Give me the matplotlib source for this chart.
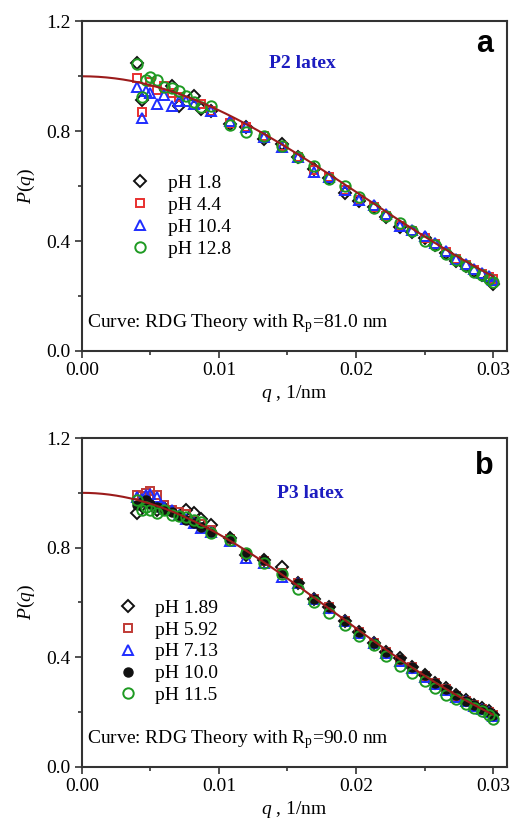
import numpy as np
import matplotlib
matplotlib.use("Agg")
import matplotlib.pyplot as plt
from matplotlib.ticker import MultipleLocator, FormatStrFormatter

# ---------------- data: panel a (P2 latex) ----------------
q_low_a = [0.00405, 0.0044, 0.00465, 0.00497, 0.00545, 0.0060, 0.00654, 0.0071, 0.00763, 0.0082, 0.00872, 0.0094]
q_high = [0.0108, 0.0120, 0.0133, 0.0146, 0.0158, 0.0169, 0.0180, 0.0192, 0.0202, 0.0213, 0.0222,
          0.0232, 0.0241, 0.0250, 0.0258, 0.0266, 0.0273, 0.0280, 0.0286, 0.0292, 0.0297, 0.0300]

a_q_ph18 = [0.00405, 0.0044, 0.00654, 0.0071, 0.0082, 0.00872, 0.0094] + q_high
a_p_ph18 = [1.048, 0.912, 0.966, 0.893, 0.927, 0.881, 0.875,
            0.827, 0.817, 0.772, 0.752, 0.705, 0.663, 0.629, 0.575, 0.545, 0.524, 0.487,
            0.453, 0.433, 0.412, 0.384, 0.358, 0.327, 0.308, 0.291, 0.275, 0.267, 0.245]

a_q_ph44 = [0.00405, 0.0044, 0.00497, 0.00545, 0.0060, 0.00654, 0.0071, 0.00872, 0.0094] + q_high
a_p_ph44 = [0.993, 0.869, 0.978, 0.950, 0.966, 0.938, 0.924, 0.899, 0.875,
            0.830, 0.815, 0.784, 0.748, 0.707, 0.660, 0.632, 0.585, 0.550, 0.525, 0.490,
            0.455, 0.435, 0.413, 0.388, 0.362, 0.335, 0.313, 0.296, 0.281, 0.271, 0.262]

a_q_ph104 = [0.00405, 0.0044, 0.00465, 0.00497, 0.00545, 0.0060, 0.00654, 0.0071, 0.00763, 0.0082, 0.0094] + q_high
a_p_ph104 = [0.962, 0.848, 0.948, 0.938, 0.899, 0.932, 0.893, 0.909, 0.911, 0.899, 0.875,
             0.836, 0.817, 0.778, 0.742, 0.705, 0.651, 0.633, 0.587, 0.548, 0.533, 0.499,
             0.455, 0.439, 0.417, 0.393, 0.364, 0.336, 0.315, 0.299, 0.284, 0.272, 0.257]

a_q_ph128 = q_low_a + q_high
a_p_ph128 = [1.045, 0.924, 0.987, 0.999, 0.987, 0.962, 0.958, 0.948, 0.930, 0.905, 0.887, 0.893,
             0.824, 0.796, 0.781, 0.748, 0.705, 0.673, 0.627, 0.602, 0.562, 0.521, 0.493,
             0.465, 0.436, 0.402, 0.384, 0.354, 0.332, 0.308, 0.287, 0.275, 0.263, 0.251]

# ---------------- data: panel b (P3 latex) ----------------
q_low_b = [0.00405, 0.00437, 0.00466, 0.00497, 0.00545, 0.0060, 0.00654, 0.0071, 0.00763, 0.0082, 0.00872, 0.0094]

b_q_ph189 = [0.00405, 0.00437, 0.00466, 0.00545, 0.0060, 0.00763, 0.0082, 0.00872, 0.0094] + q_high
b_p_ph189 = [0.925, 0.955, 0.971, 0.937, 0.943, 0.939, 0.925, 0.906, 0.882,
             0.834, 0.775, 0.755, 0.728, 0.670, 0.612, 0.585, 0.534, 0.494, 0.454, 0.421,
             0.397, 0.364, 0.336, 0.308, 0.288, 0.263, 0.243, 0.227, 0.215, 0.203, 0.190]

b_q_ph592 = q_low_b + q_high
b_p_ph592 = [0.991, 0.988, 1.000, 1.007, 0.991, 0.955, 0.939, 0.931, 0.922, 0.900, 0.888, 0.864,
             0.830, 0.778, 0.752, 0.706, 0.672, 0.614, 0.582, 0.534, 0.493, 0.453, 0.420,
             0.392, 0.363, 0.333, 0.305, 0.284, 0.260, 0.241, 0.225, 0.212, 0.200, 0.188]

b_q_ph713 = q_low_b + q_high
b_p_ph713 = [0.983, 0.979, 0.991, 0.997, 0.983, 0.949, 0.939, 0.918, 0.906, 0.891, 0.870, 0.858,
             0.825, 0.764, 0.743, 0.694, 0.670, 0.612, 0.579, 0.534, 0.490, 0.451, 0.417,
             0.388, 0.360, 0.330, 0.303, 0.281, 0.257, 0.239, 0.223, 0.211, 0.199, 0.187]

b_q_ph100 = q_low_b + q_high
b_p_ph100 = [0.955, 0.967, 0.973, 0.961, 0.949, 0.937, 0.931, 0.915, 0.900, 0.891, 0.876, 0.858,
             0.834, 0.779, 0.755, 0.709, 0.672, 0.612, 0.582, 0.534, 0.494, 0.454, 0.421,
             0.393, 0.364, 0.334, 0.306, 0.285, 0.261, 0.241, 0.225, 0.212, 0.200, 0.188]

b_q_ph115 = q_low_b + q_high
b_p_ph115 = [0.973, 0.939, 0.949, 0.937, 0.925, 0.937, 0.918, 0.915, 0.912, 0.900, 0.894, 0.854,
             0.827, 0.781, 0.743, 0.704, 0.648, 0.603, 0.561, 0.518, 0.476, 0.445, 0.405,
             0.369, 0.342, 0.312, 0.288, 0.263, 0.248, 0.231, 0.215, 0.203, 0.190, 0.175]

Rp_a = 81.0
Rp_b = 90.0

# ---------------- plotting ----------------
serif = ["Liberation Serif", "DejaVu Serif"]
plt.rcParams["font.family"] = serif
plt.rcParams["mathtext.fontset"] = "custom"
plt.rcParams["mathtext.rm"] = "Liberation Serif"
plt.rcParams["mathtext.it"] = "Liberation Serif:italic"

FS = 14

fig = plt.figure(figsize=(5.15, 8.21), dpi=100)
ax_a = fig.add_axes([0.159, 0.5725, 0.825, 0.4015])
ax_b = fig.add_axes([0.159, 0.0658, 0.825, 0.4007])

LINE = "#9b1b1b"
BLACK = "#111111"
RED = "#e8302f"
RED_B = "#c03a35"
BLUE = "#1f2dff"
GREEN = "#1e9a22"


def rdg(q, R):
    x = np.asarray(q) * R
    with np.errstate(divide="ignore", invalid="ignore"):
        f = 3 * (np.sin(x) - x * np.cos(x)) / x ** 3
    f = np.where(x == 0, 1.0, f)
    return f ** 2


def style(ax):
    ax.set_xlim(0, 0.031)
    ax.set_ylim(0, 1.2)
    ax.xaxis.set_major_locator(MultipleLocator(0.01))
    ax.xaxis.set_minor_locator(MultipleLocator(0.005))
    ax.yaxis.set_major_locator(MultipleLocator(0.4))
    ax.yaxis.set_minor_locator(MultipleLocator(0.2))
    ax.xaxis.set_major_formatter(FormatStrFormatter("%.2f"))
    ax.yaxis.set_major_formatter(FormatStrFormatter("%.1f"))
    ax.tick_params(which="both", direction="out", top=False, right=False,
                   width=1.2, color="#333333", labelsize=FS)
    ax.tick_params(which="major", length=5, pad=3)
    ax.tick_params(which="minor", length=3)
    for s in ax.spines.values():
        s.set_linewidth(1.5)
        s.set_color("#333333")
    ax.set_xlabel(r"$\mathit{q}$ , 1/nm", fontsize=FS, labelpad=3)
    ax.set_ylabel(r"$\mathit{P(q)}$", fontsize=FS, labelpad=7)


mk = dict(linestyle="none", markerfacecolor="none", markeredgewidth=1.4)

# panel a
qq = np.linspace(0, 0.03, 300)
ax_a.plot(a_q_ph18, a_p_ph18, marker="D", markersize=6.5, markeredgecolor=BLACK, label="pH 1.8", **mk)
ax_a.plot(a_q_ph44, a_p_ph44, marker="s", markersize=6, markeredgecolor=RED, label="pH 4.4", **mk)
ax_a.plot(a_q_ph104, a_p_ph104, marker="^", markersize=7, markeredgecolor=BLUE, label="pH 10.4", **mk)
ax_a.plot(a_q_ph128, a_p_ph128, marker="o", markersize=7.5, markeredgecolor=GREEN, label="pH 12.8", **mk)
ax_a.plot(qq, rdg(qq, Rp_a), color=LINE, lw=1.5)
style(ax_a)
ax_a.legend(loc="upper left", bbox_to_anchor=(0.092, 0.565), frameon=False, fontsize=FS,
            handlelength=1.0, handletextpad=0.9, labelspacing=0.22, borderpad=0)
ax_a.text(0.0161, 1.045, "P2 latex", color="#1c1cc0", fontweight="bold", fontsize=FS,
          ha="center", va="center")
ax_a.text(0.968, 0.93, "a", transform=ax_a.transAxes, fontsize=22, fontweight="bold",
          family=["Liberation Sans", "DejaVu Sans"], ha="right", va="center")
ax_a.text(0.0004, 0.087, r"Curve: RDG Theory with R$_\mathrm{p}$=81.0 nm",
          fontsize=FS, ha="left", va="baseline")

# panel b
ax_b.plot(b_q_ph189, b_p_ph189, marker="D", markersize=6.5, markeredgecolor=BLACK, label="pH 1.89", **mk)
ax_b.plot(b_q_ph592, b_p_ph592, marker="s", markersize=6, markeredgecolor=RED_B, label="pH 5.92", **mk)
ax_b.plot(b_q_ph713, b_p_ph713, marker="^", markersize=7, markeredgecolor=BLUE, label="pH 7.13", **mk)
ax_b.plot(b_q_ph100, b_p_ph100, marker="o", markersize=6.5, linestyle="none", color=BLACK, label="pH 10.0")
ax_b.plot(b_q_ph115, b_p_ph115, marker="o", markersize=7.5, markeredgecolor=GREEN, label="pH 11.5", **mk)
ax_b.plot(qq, rdg(qq, Rp_b), color=LINE, lw=1.5)
style(ax_b)
ax_b.legend(loc="upper left", bbox_to_anchor=(0.062, 0.54), frameon=False, fontsize=FS,
            handlelength=1.0, handletextpad=0.9, labelspacing=0.22, borderpad=0)
ax_b.text(0.0167, 0.998, "P3 latex", color="#1c1cc0", fontweight="bold", fontsize=FS,
          ha="center", va="center")
ax_b.text(0.968, 0.915, "b", transform=ax_b.transAxes, fontsize=22, fontweight="bold",
          family=["Liberation Sans", "DejaVu Sans"], ha="right", va="center")
ax_b.text(0.0004, 0.087, r"Curve: RDG Theory with R$_\mathrm{p}$=90.0 nm",
          fontsize=FS, ha="left", va="baseline")

fig.savefig("out.png", dpi=100)
